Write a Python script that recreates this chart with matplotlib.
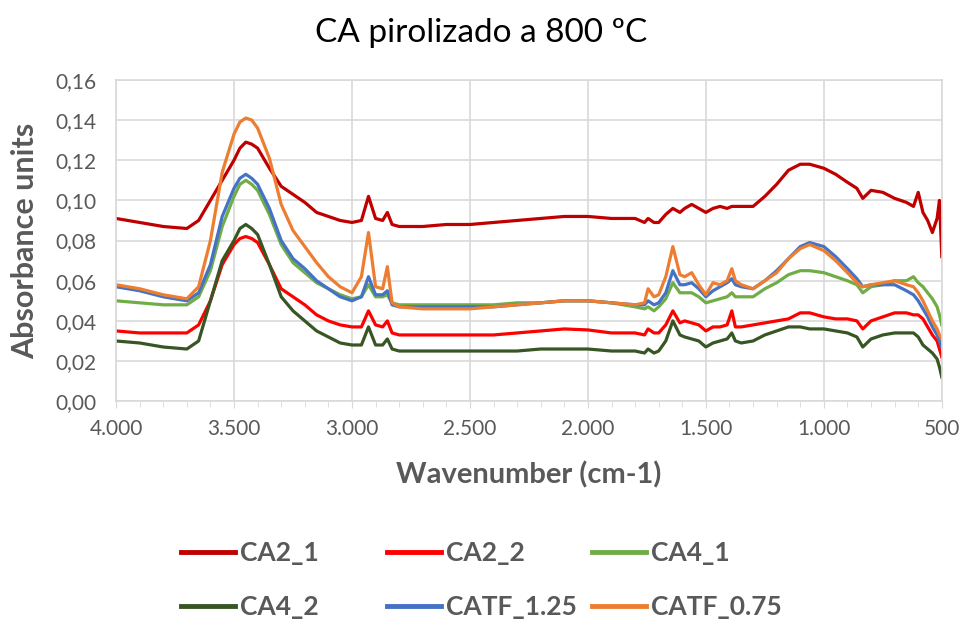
import matplotlib
matplotlib.use("Agg")
import matplotlib.pyplot as plt
from matplotlib.ticker import FuncFormatter, MultipleLocator

# Numeros de onda (cm-1)
wn = [4000, 3900, 3800, 3700, 3650, 3600, 3550, 3500, 3475, 3450, 3425, 3400,
      3350, 3300, 3250, 3200, 3150, 3100, 3050, 3000, 2960, 2930,
      2900, 2870, 2850, 2830, 2800, 2700, 2600, 2500, 2400, 2300,
      2200, 2100, 2000, 1900, 1800, 1760, 1745, 1720, 1700, 1670,
      1640, 1610, 1590, 1560, 1530, 1500, 1470, 1440, 1410, 1390,
      1375, 1350, 1300, 1250, 1200, 1150, 1100, 1060, 1000, 950,
      900, 860, 835, 800, 750, 700, 650, 620, 600, 580,
      560, 540, 520, 510, 500]

ca2_1 = [0.091, 0.089, 0.087, 0.086, 0.090, 0.100, 0.110, 0.120, 0.126, 0.129, 0.128, 0.126,
         0.116, 0.107, 0.103, 0.099, 0.094, 0.092, 0.090, 0.089, 0.090, 0.102,
         0.091, 0.090, 0.094, 0.088, 0.087, 0.087, 0.088, 0.088, 0.089, 0.090,
         0.091, 0.092, 0.092, 0.091, 0.091, 0.089, 0.091, 0.089, 0.089, 0.093,
         0.096, 0.094, 0.096, 0.098, 0.096, 0.094, 0.096, 0.097, 0.096, 0.097,
         0.097, 0.097, 0.097, 0.102, 0.108, 0.115, 0.118, 0.118, 0.116, 0.113,
         0.109, 0.106, 0.101, 0.105, 0.104, 0.101, 0.099, 0.097, 0.104, 0.094,
         0.090, 0.084, 0.091, 0.100, 0.072]

ca2_2 = [0.035, 0.034, 0.034, 0.034, 0.038, 0.050, 0.068, 0.078, 0.081, 0.082, 0.081, 0.079,
         0.068, 0.056, 0.052, 0.048, 0.043, 0.040, 0.038, 0.037, 0.037, 0.045,
         0.038, 0.037, 0.040, 0.034, 0.033, 0.033, 0.033, 0.033, 0.033, 0.034,
         0.035, 0.036, 0.0355, 0.034, 0.034, 0.033, 0.036, 0.034, 0.034, 0.038,
         0.045, 0.039, 0.040, 0.039, 0.038, 0.035, 0.037, 0.037, 0.038, 0.045,
         0.037, 0.037, 0.038, 0.039, 0.040, 0.041, 0.044, 0.044, 0.042, 0.041,
         0.041, 0.040, 0.036, 0.040, 0.042, 0.044, 0.044, 0.043, 0.043, 0.041,
         0.037, 0.033, 0.030, 0.026, 0.022]

ca4_1 = [0.050, 0.049, 0.048, 0.048, 0.052, 0.065, 0.087, 0.102, 0.108, 0.110, 0.108, 0.105,
         0.093, 0.078, 0.069, 0.064, 0.059, 0.056, 0.053, 0.051, 0.052, 0.058,
         0.052, 0.052, 0.053, 0.049, 0.048, 0.048, 0.048, 0.048, 0.048, 0.049,
         0.049, 0.050, 0.050, 0.049, 0.047, 0.046, 0.047, 0.045, 0.047, 0.051,
         0.059, 0.054, 0.054, 0.054, 0.052, 0.049, 0.050, 0.051, 0.052, 0.054,
         0.052, 0.052, 0.052, 0.056, 0.059, 0.063, 0.065, 0.065, 0.064, 0.062,
         0.060, 0.058, 0.054, 0.057, 0.058, 0.060, 0.060, 0.062, 0.059, 0.057,
         0.054, 0.051, 0.047, 0.043, 0.038]

ca4_2 = [0.030, 0.029, 0.027, 0.026, 0.030, 0.050, 0.070, 0.080, 0.086, 0.088, 0.086, 0.083,
         0.068, 0.052, 0.045, 0.040, 0.035, 0.032, 0.029, 0.028, 0.028, 0.037,
         0.028, 0.028, 0.031, 0.026, 0.025, 0.025, 0.025, 0.025, 0.025, 0.025,
         0.026, 0.026, 0.026, 0.025, 0.025, 0.024, 0.026, 0.024, 0.025, 0.030,
         0.040, 0.033, 0.032, 0.031, 0.030, 0.027, 0.029, 0.030, 0.031, 0.034,
         0.030, 0.029, 0.030, 0.033, 0.035, 0.037, 0.037, 0.036, 0.036, 0.035,
         0.034, 0.032, 0.027, 0.031, 0.033, 0.034, 0.034, 0.034, 0.032, 0.028,
         0.026, 0.024, 0.021, 0.017, 0.012]

catf_125 = [0.057, 0.055, 0.052, 0.050, 0.054, 0.068, 0.092, 0.106, 0.111, 0.113, 0.111, 0.108,
            0.096, 0.080, 0.071, 0.066, 0.060, 0.056, 0.052, 0.050, 0.052, 0.062,
            0.053, 0.053, 0.055, 0.048, 0.047, 0.047, 0.047, 0.047, 0.047, 0.048,
            0.049, 0.050, 0.050, 0.049, 0.048, 0.048, 0.050, 0.048, 0.049, 0.054,
            0.065, 0.058, 0.058, 0.059, 0.056, 0.052, 0.055, 0.057, 0.059, 0.061,
            0.058, 0.057, 0.056, 0.060, 0.065, 0.071, 0.077, 0.079, 0.077, 0.072,
            0.066, 0.061, 0.057, 0.058, 0.058, 0.058, 0.055, 0.053, 0.050, 0.046,
            0.042, 0.037, 0.033, 0.030, 0.027]

catf_075 = [0.058, 0.056, 0.053, 0.051, 0.057, 0.080, 0.114, 0.133, 0.139, 0.141, 0.140, 0.136,
            0.121, 0.098, 0.085, 0.077, 0.069, 0.062, 0.057, 0.054, 0.062, 0.084,
            0.057, 0.056, 0.067, 0.049, 0.047, 0.046, 0.046, 0.046, 0.047, 0.048,
            0.049, 0.050, 0.050, 0.049, 0.048, 0.049, 0.056, 0.052, 0.053, 0.062,
            0.077, 0.063, 0.062, 0.064, 0.058, 0.053, 0.059, 0.058, 0.060, 0.066,
            0.060, 0.058, 0.056, 0.060, 0.064, 0.071, 0.076, 0.078, 0.075, 0.070,
            0.064, 0.059, 0.057, 0.058, 0.059, 0.060, 0.058, 0.057, 0.054, 0.050,
            0.045, 0.040, 0.036, 0.033, 0.031]

names = ["CA2_1", "CA2_2", "CA4_1", "CA4_2", "CATF_1.25", "CATF_0.75"]
series = [ca2_1, ca2_2, ca4_1, ca4_2, catf_125, catf_075]
colors = ["#C00000", "#FF0000", "#70AD47", "#375623", "#4472C4", "#ED7D31"]

grey = "#595959"
grid_c = "#D9D9D9"
plt.rcParams['font.family'] = ['Lato', 'DejaVu Sans']

W, H = 963, 624
fig = plt.figure(figsize=(W / 100, H / 100), dpi=100)
ax = fig.add_axes([0.1205, 0.357, 0.8575, 0.515])

lines = []
for nm, ys, c in zip(names, series, colors):
    ln, = ax.plot(wn, ys, color=c, lw=2.3, label=nm, solid_joinstyle="round")
    lines.append(ln)

ax.set_xlim(4000, 500)
ax.set_ylim(0, 0.16)
ax.xaxis.set_major_locator(MultipleLocator(500))
ax.xaxis.set_minor_locator(MultipleLocator(100))
ax.yaxis.set_major_locator(MultipleLocator(0.02))
ax.xaxis.set_major_formatter(FuncFormatter(lambda v, p: f"{int(v):,}".replace(",", ".")))
ax.yaxis.set_major_formatter(FuncFormatter(lambda v, p: f"{v:.2f}".replace(".", ",")))

ax.grid(True, color=grid_c, lw=1.2)
ax.set_axisbelow(True)
for s in ax.spines.values():
    s.set_color(grid_c)
    s.set_linewidth(1.2)
ax.tick_params(axis="both", which="both", colors=grid_c, labelcolor=grey, labelsize=15)
ax.tick_params(axis="x", which="major", length=5, pad=8)
ax.tick_params(axis="x", which="minor", length=4)
ax.tick_params(axis="y", length=0, pad=14)

fig.text(0.5, 1 - 33 / H, "CA pirolizado a 800 ºC", fontsize=24, color="black",
         ha="center", va="center")
ax.set_xlabel("Wavenumber (cm-1)", fontsize=21, fontweight="bold", color=grey, labelpad=16)
ax.set_ylabel("Absorbance units", fontsize=22, fontweight="bold", color=grey, labelpad=12)

# leyenda tipo Excel: 3 columnas de ancho fijo, 2 filas
col_x = [181, 387, 592]
row_y = [553, 607]
for i, ln in enumerate(lines):
    x = col_x[i % 3]
    y = row_y[i // 3]
    leg = fig.legend([ln], [names[i]], loc="center left",
                     bbox_to_anchor=(x / W, 1 - y / H), frameon=False,
                     fontsize=19, handlelength=2.05, handletextpad=0.2,
                     borderpad=0, borderaxespad=0)
    for t in leg.get_texts():
        t.set_color(grey)
        t.set_fontweight("bold")
    for l in leg.get_lines():
        l.set_linewidth(3.5)

fig.savefig("out.png", dpi=100)
